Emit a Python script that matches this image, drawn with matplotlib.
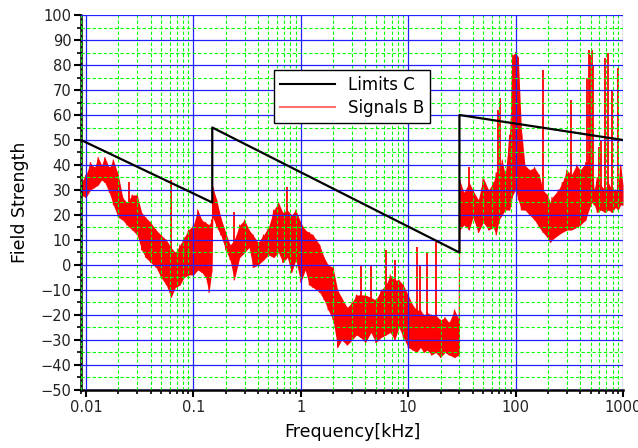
import numpy as np
import matplotlib
matplotlib.use('Agg')
import matplotlib.pyplot as plt
from matplotlib.ticker import LogLocator, MultipleLocator, NullFormatter

# limit line C (kHz, level)
limit_freq = [0.009, 0.15, 0.15, 30, 30, 1000]
limit_level = [50, 25, 55, 5, 60, 50]

sig1_freq = [0.009, 0.010, 0.011, 0.012, 0.013, 0.014, 0.015, 0.0165, 0.018, 0.020,
             0.022, 0.024, 0.027, 0.030, 0.033, 0.036, 0.040, 0.045, 0.050, 0.056,
             0.062, 0.068, 0.075, 0.082, 0.090, 0.100, 0.110, 0.120, 0.130, 0.140, 0.148]
sig1_hi = [33, 36, 41, 39, 43, 40, 43, 39, 42, 36,
           27, 25, 28, 28, 21, 19, 17, 14, 12, 10,
           7, 5, 8, 11, 14, 16, 22, 18, 17, 16, 18]
sig1_lo = [28, 27, 30, 31, 32, 34, 33, 29, 24, 19,
           18, 16, 14, 12, 6, 3, 1, -1, -5, -8,
           -13, -9, -8, -5, -4, -4, -2, -3, -5, -11, -3]

sig2_freq = [0.152, 0.165, 0.18, 0.20, 0.22, 0.24, 0.27, 0.30, 0.33, 0.36,
             0.40, 0.45, 0.50, 0.56, 0.62, 0.68, 0.75, 0.82, 0.90, 1.0,
             1.1, 1.2, 1.3, 1.4, 1.5, 1.65, 1.8, 2.0, 2.2, 2.4,
             2.7, 3.0, 3.3, 3.6, 4.0, 4.5, 5.0, 5.6, 6.2, 6.8,
             7.5, 8.2, 9.0, 10, 11, 12, 13, 14, 15, 16.5,
             18, 20, 22, 24, 27, 29.8]
sig2_hi = [31, 26, 19, 13, 8, 10, 16, 18, 14, 12,
           9, 12, 15, 22, 25, 21, 22, 20, 22, 17,
           14, 13, 12, 10, 8, 3, 0, -1, -10, -13,
           -17, -15, -12, -12, -12, -13, -14, -10, -8, -4,
           -6, -6, -8, -12, -16, -18, -18, -20, -19, -20,
           -20, -22, -21, -23, -18, -22]
sig2_lo = [19, 15, 12, 6, 2, -6, 3, 5, 7, -1,
           0, 2, 4, 3, 5, 1, 3, -3, 2, -7,
           -2, -8, -9, -10, -11, -14, -18, -22, -33, -30,
           -32, -30, -28, -29, -31, -27, -31, -29, -28, -27,
           -30, -25, -29, -33, -34, -35, -33, -35, -34, -36,
           -35, -37, -35, -36, -37, -36]

sig3_freq = [30.2, 33, 37, 40, 45, 50, 56, 62, 66, 70,
             75, 80, 88, 94, 100, 106, 113, 122, 135, 150,
             166, 180, 198, 210, 218, 250, 272, 300, 330, 370,
             400, 450, 480, 510, 540, 575, 620, 680, 730, 790,
             850, 900, 950, 1000]
sig3_hi = [34, 29, 33, 30, 26, 35, 30, 33, 37, 38,
           42, 36, 52, 84, 85, 83, 55, 40, 38, 39,
           36, 30, 28, 25, 27, 30, 33, 38, 36, 40,
           38, 41, 42, 40, 30, 35, 32, 30, 33, 30,
           30, 30, 40, 32]
sig3_lo = [14, 16, 14, 19, 13, 17, 14, 15, 12, 18,
           20, 22, 22, 28, 30, 26, 22, 22, 20, 18,
           15, 13, 11, 9, 10, 12, 13, 14, 14, 15,
           16, 18, 22, 25, 24, 21, 22, 21, 22, 21,
           23, 22, 24, 24]

# narrow spikes standing out of the band
spike_freq = [0.025, 0.062, 0.24, 0.75, 3.6, 4.5, 6.2, 7.5, 12, 13, 15, 18,
              37, 68, 71, 180, 330, 465, 480, 495, 510, 525, 600, 620, 680, 730, 790, 900]
spike_top = [33, 34, 21, 31, 0, 0, 6, 2, 7, 0, 5, 9,
             39, 62, 67, 78, 66, 75, 86, 84, 86, 80, 47, 50, 83, 85, 70, 79]
spike_base = [20, 0, 5, 10, -20, -20, -20, -20, -25, -25, -25, -25,
              20, 25, 25, 20, 25, 30, 30, 30, 30, 30, 25, 25, 25, 25, 25, 25]

xtick_vals = [0.01, 0.1, 1, 10, 100, 1000]
xtick_labels = ['0.01', '0.1', '1', '10', '100', '1000']
ytick_vals = [-50, -40, -30, -20, -10, 0, 10, 20, 30, 40, 50, 60, 70, 80, 90, 100]

sig_freq = np.array(sig1_freq + sig2_freq + sig3_freq)
sig_hi = np.array(sig1_hi + sig2_hi + sig3_hi)
sig_lo = np.array(sig1_lo + sig2_lo + sig3_lo)

# zigzag between the band edges
zz_x = np.repeat(sig_freq, 2)
zz_y = np.column_stack([sig_hi, sig_lo]).ravel()

fig = plt.figure(figsize=(6.38, 4.48), dpi=100)
ax = fig.add_axes([0.127, 0.1295, 0.8495, 0.837])

ax.fill_between(sig_freq, sig_lo, sig_hi, color='#ff0000', lw=0, zorder=1.5)
sig_line, = ax.plot(zz_x, zz_y, color='#ff0000', lw=0.8, zorder=2, label='Signals B')
ax.vlines(spike_freq, spike_base, spike_top, color='#ff0000', lw=1.3, zorder=2)
lim_line, = ax.plot(limit_freq, limit_level, color='black', lw=1.6, zorder=3, label='Limits C')

ax.set_xscale('log')
ax.set_xlim(0.009, 1000)
ax.set_ylim(-50, 100)
ax.set_xticks(xtick_vals, xtick_labels)
ax.xaxis.set_minor_locator(LogLocator(subs=np.arange(2, 10), numticks=20))
ax.xaxis.set_minor_formatter(NullFormatter())
ax.set_yticks(ytick_vals)
ax.yaxis.set_minor_locator(MultipleLocator(5))

# grid sits on top of the signal
ax.set_axisbelow(False)
ax.grid(which='major', color='#2020ff', lw=0.9)
ax.grid(which='minor', color='#00ff00', lw=0.8, ls=(0, (3, 2)))

ax.tick_params(which='major', length=5, width=1.5, direction='out',
               labelsize=10.5, labelcolor='#222222', pad=2)
ax.tick_params(which='minor', length=3, width=1.2, direction='out')
for s in ['top', 'right']:
    ax.spines[s].set_visible(False)
for s in ['left', 'bottom']:
    ax.spines[s].set_linewidth(1.8)

ax.set_xlabel('Frequency[kHz]', fontsize=12.5, labelpad=6)
ax.set_ylabel('Field Strength', fontsize=12.5, labelpad=8)

leg = ax.legend(handles=[lim_line, sig_line], loc='upper left',
                bbox_to_anchor=(0.356, 0.853), borderaxespad=0, fontsize=12,
                fancybox=False, edgecolor='black', framealpha=1,
                handlelength=3.3, borderpad=0.35, labelspacing=0.3, handletextpad=0.8)
leg.get_frame().set_linewidth(1.0)
leg.get_lines()[1].set_color('#ff7070')
leg.get_lines()[1].set_linewidth(1.5)
leg.get_lines()[0].set_linewidth(1.5)

fig.savefig('out.png', dpi=100)
